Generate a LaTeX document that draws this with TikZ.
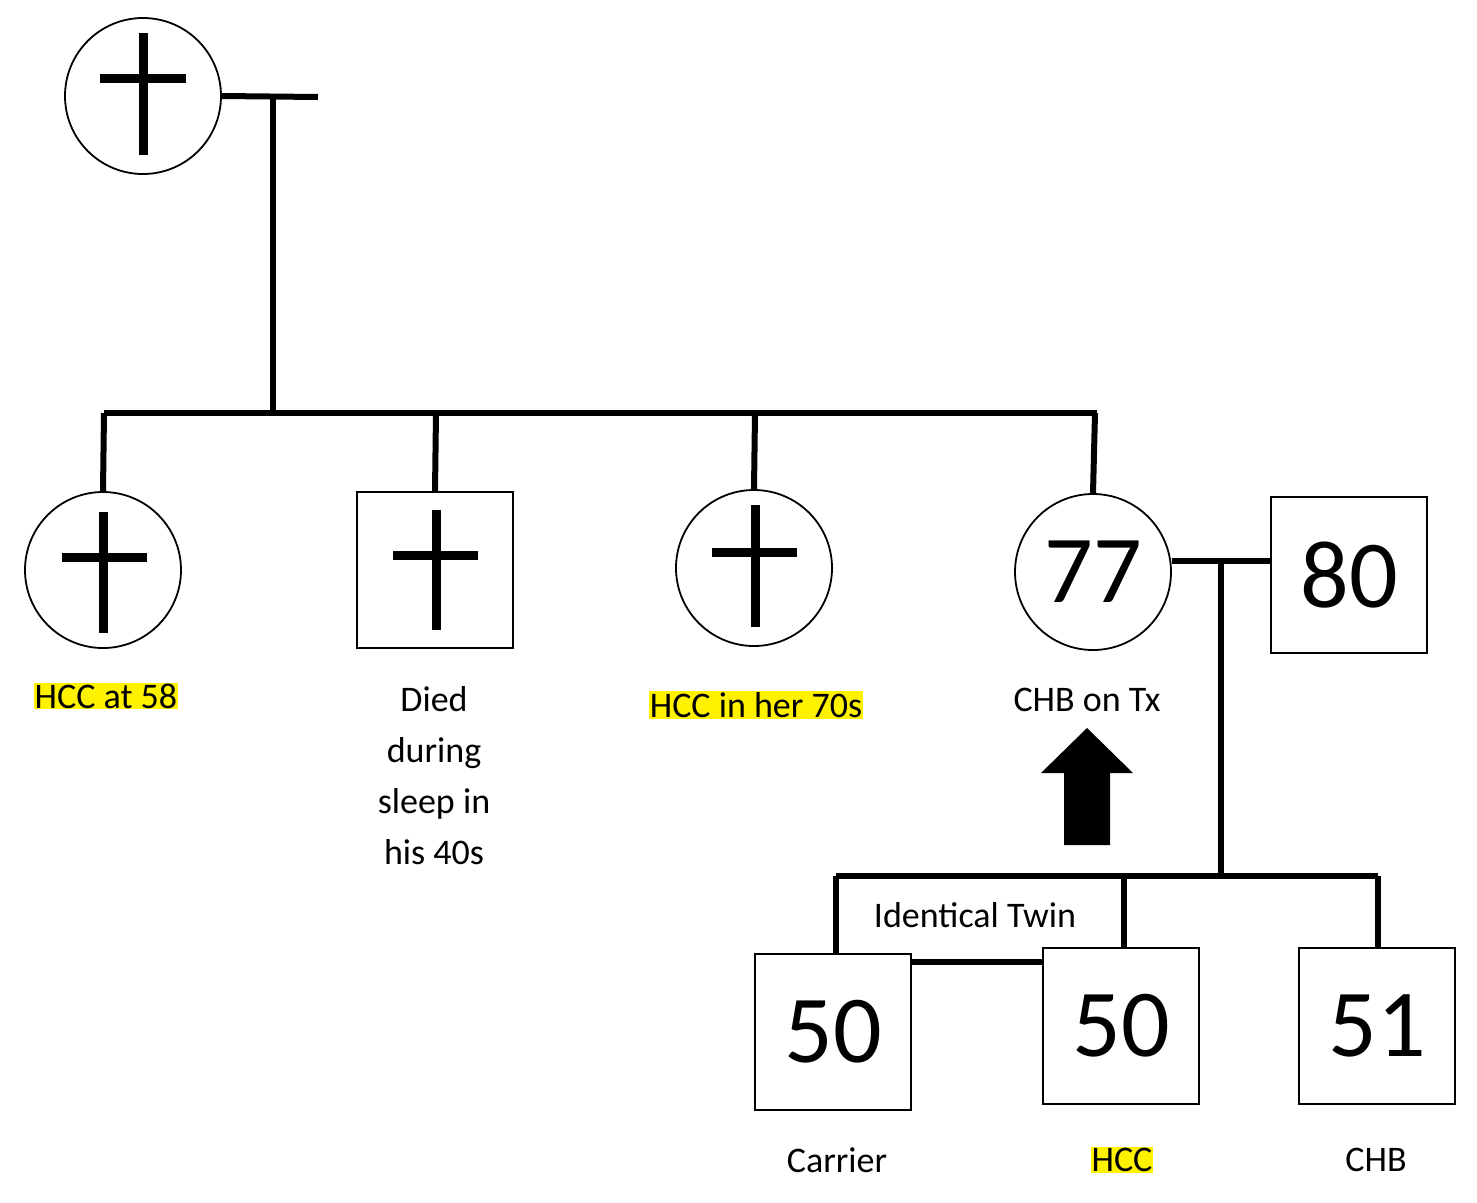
\documentclass[tikz,border=0pt]{standalone}
\usepackage{fontspec}
\setmainfont{Carlito}
\begin{document}
\begin{tikzpicture}[x=1pt,y=-1pt,
 ind/.style={draw,line width=1.8pt,inner sep=0pt},
 circ/.style={ind,circle,minimum size=156pt},
 sq/.style={ind,rectangle,minimum size=156pt},
 ln/.style={line width=6pt},
 cr/.style={line width=9pt},
 lab/.style={font=\fontsize{36}{51}\selectfont,align=center},
 hl/.style={lab,fill=yellow,inner sep=1pt},
 num/.style={font=\fontsize{96}{96}\selectfont}]
\useasboundingbox (0,0) rectangle (1477,1202);
\node[circ] (g) at (143,96) {};
\draw[cr] (143,33)--(143,155) (100,78)--(186,78);
\coordinate (gr) at (318,97);
\coordinate (gm) at (273,97);
\coordinate (sl) at (104,413);
\coordinate (sr) at (1097,413);
\coordinate (sm) at (273,413);
\draw[ln] (g.east)--(gr);
\draw[ln] (gm)--(sm);
\draw[ln] (sl)--(sr);
\node[circ] (c1) at (103,570) {};
\draw[cr] (103,512)--(103,633) (62,557)--(147,557);
\node[sq] (s2) at (435,570) {};
\draw[cr] (436,510)--(436,630) (393,555)--(478,555);
\node[circ] (c3) at (754,568) {};
\draw[cr] (755,505)--(755,627) (712,552)--(797,552);
\node[circ,num] (c4) at (1093,572) {77};
\node[sq,num] (s80) at (1349,575) {80};
\draw[ln] (104,413)--(c1.north);
\draw[ln] (436,413)--(s2.north);
\draw[ln] (755,413)--(c3.north);
\draw[ln] (1095,413)--(c4.north);
\coordinate (mm) at (1221,561);
\coordinate (cm) at (1221,876);
\draw[ln] (1172,561)--(s80.west |- 0,561);
\draw[ln] (mm)--(cm);
\draw[ln] (836,876)--(1378,876);
\node[sq,num] (k1) at (833,1032) {50};
\node[sq,num] (k2) at (1121,1026) {50};
\node[sq,num] (k3) at (1377,1026) {51};
\draw[ln] (836,876)--(836,954);
\draw[ln] (1124,876)--(1124,948);
\draw[ln] (1378,876)--(1378,948);
\draw[ln] (911,962)--(1043,962);
\node[lab] (it) at (975,915) {Identical Twin};
\fill (1064,845)--(1064,773)--(1041,773)--(1087,728)--(1133,773)--(1110,773)--(1110,845)--cycle;
\node[hl] (l1) at (106,696) {HCC at 58};
\node[lab] (l2) at (434,776) {Died\\during\\sleep in\\his 40s};
\node[hl] (l3) at (756,705) {HCC in her 70s};
\node[lab] (l4) at (1087,700) {CHB on Tx};
\node[lab] (l5) at (837,1160) {Carrier};
\node[hl] (l6) at (1122,1160) {HCC};
\node[lab] (l7) at (1376,1160) {CHB};
\end{tikzpicture}
\end{document}
